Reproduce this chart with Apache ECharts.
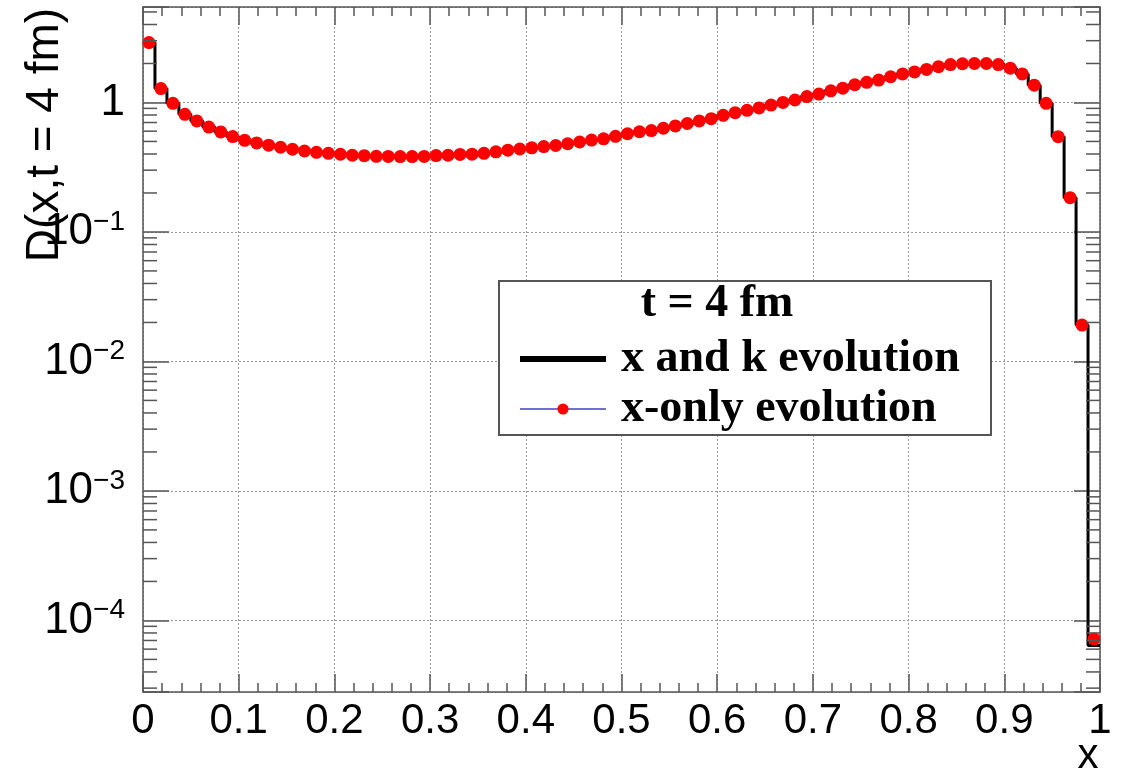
<!DOCTYPE html>
<html>
<head>
<meta charset="utf-8">
<script src="https://cdn.jsdelivr.net/npm/echarts@6/dist/echarts.min.js"></script>
<style>
  html, body { margin: 0; background: #fff; }
  #chart { width: 1122px; height: 772px; }
</style>
</head>
<body>
<div id="chart"></div>
<script>
// 80 bins of width 0.0125 on x in [0, 1]
var binWidth = 0.0125;

// D(x, t = 4 fm), x and k evolution (black histogram)
var xkEvolution = [
  2.90, 1.28, 0.985, 0.81, 0.72, 0.645, 0.592, 0.545, 0.51, 0.487,
  0.468, 0.451, 0.435, 0.422, 0.412, 0.405, 0.398, 0.391, 0.388, 0.384,
  0.383, 0.382, 0.382, 0.383, 0.389, 0.391, 0.397, 0.399, 0.405, 0.416,
  0.428, 0.437, 0.446, 0.456, 0.465, 0.480, 0.495, 0.512, 0.524, 0.548,
  0.573, 0.594, 0.607, 0.632, 0.659, 0.688, 0.72, 0.75, 0.795, 0.834,
  0.87, 0.907, 0.955, 1.0, 1.045, 1.11, 1.16, 1.23, 1.29, 1.37,
  1.43, 1.49, 1.58, 1.66, 1.72, 1.80, 1.89, 1.96, 1.99, 2.00,
  2.00, 1.96, 1.84, 1.66, 1.36, 0.985, 0.544, 0.184, 0.0191, 6.4e-5
];

// D(x, t = 4 fm), x-only evolution (red markers)
var xOnlyEvolution = [
  2.90, 1.28, 0.985, 0.81, 0.72, 0.645, 0.592, 0.545, 0.51, 0.487,
  0.468, 0.451, 0.435, 0.422, 0.412, 0.405, 0.398, 0.391, 0.388, 0.384,
  0.383, 0.382, 0.382, 0.383, 0.389, 0.391, 0.397, 0.399, 0.405, 0.416,
  0.428, 0.437, 0.446, 0.456, 0.465, 0.480, 0.495, 0.512, 0.524, 0.548,
  0.573, 0.594, 0.607, 0.632, 0.659, 0.688, 0.72, 0.75, 0.795, 0.834,
  0.87, 0.907, 0.955, 1.0, 1.045, 1.11, 1.16, 1.23, 1.29, 1.37,
  1.43, 1.49, 1.58, 1.66, 1.72, 1.80, 1.89, 1.96, 1.99, 2.00,
  2.00, 1.96, 1.84, 1.66, 1.36, 0.985, 0.544, 0.184, 0.0191, 7.2e-5
];

var yMin = 2.8e-5;
var yMax = 5.46;

var frameColor = '#555';
var gridLine = { show: true, lineStyle: { color: '#999', width: 1, type: [2, 2] } };

// log-axis minor ticks at 2..9 x 10^k (drawn on both sides)
var minorTicks = [];
for (var k = -5; k <= 0; k++) {
  for (var m = 2; m <= 9; m++) {
    var v = m * Math.pow(10, k);
    if (v > yMin && v < yMax) minorTicks.push([0, v]);
  }
}

function histEdges(values) {
  var pts = values.map(function (v, i) { return [i * binWidth, v]; });
  pts.push([1, values[values.length - 1]]);
  return pts;
}
function binCenters(values) {
  return values.map(function (v, i) { return [(i + 0.5) * binWidth, v]; });
}

function powerLabel(v) {
  var lg = Math.log10(v);
  var e = Math.round(lg);
  if (Math.abs(lg - e) > 1e-6) return '';
  if (e === 0) return '{b|1}';
  if (e === 1) return '{b|10}';
  return '{b|10}{s|' + (e < 0 ? '\u2212' : '') + Math.abs(e) + '}';
}

function renderMinorTick(params, api) {
  var v = api.value(1);
  var l = api.coord([0, v]);
  var r = api.coord([1, v]);
  var len = 14;
  var style = { stroke: frameColor, lineWidth: 1.5 };
  return {
    type: 'group',
    children: [
      { type: 'line', shape: { x1: l[0], y1: l[1], x2: l[0] + len, y2: l[1] }, style: style },
      { type: 'line', shape: { x1: r[0] - len, y1: r[1], x2: r[0], y2: r[1] }, style: style }
    ]
  };
}

function xAxisOpt(pos, labels) {
  return {
    type: 'value', position: pos, min: 0, max: 1, interval: 0.1,
    axisLine: { show: true, onZero: false, lineStyle: { color: frameColor, width: 1.5 } },
    axisTick: { show: true, inside: true, length: 18, lineStyle: { color: frameColor, width: 1.5 } },
    minorTick: { show: true, splitNumber: 5, length: 9, lineStyle: { color: frameColor, width: 1.5 } },
    splitLine: labels ? gridLine : { show: false },
    axisLabel: labels ? {
      show: true, margin: 8, color: '#000', fontFamily: 'Liberation Sans', fontSize: 42
    } : { show: false }
  };
}

function yAxisOpt(pos, labels) {
  return {
    type: 'log', logBase: 10, position: pos, min: yMin, max: yMax,
    axisLine: { show: true, onZero: false, lineStyle: { color: frameColor, width: 1.5 } },
    axisTick: { show: true, inside: true, length: 26, lineStyle: { color: frameColor, width: 1.5 } },
    minorTick: { show: false },
    splitLine: labels ? gridLine : { show: false },
    axisLabel: labels ? {
      show: true, margin: 18, formatter: powerLabel,
      rich: {
        b: { fontFamily: 'Liberation Sans', fontSize: 44, color: '#000', lineHeight: 48 },
        s: { fontFamily: 'Liberation Sans', fontSize: 28, color: '#000', verticalAlign: 'top', lineHeight: 28 }
      }
    } : { show: false }
  };
}

var option = {
  backgroundColor: '#fff',
  animation: false,
  grid: { left: 143, right: 22, top: 7, bottom: 80 },
  xAxis: [xAxisOpt('bottom', true), xAxisOpt('top', false)],
  yAxis: [yAxisOpt('left', true), yAxisOpt('right', false)],
  legend: {
    orient: 'vertical', left: 517, top: 336, z: 60, padding: 0,
    itemWidth: 86, itemHeight: 14, itemGap: 4,
    textStyle: { fontFamily: 'Liberation Serif', fontWeight: 'bold', fontSize: 46, color: '#000', padding: [0, 0, 0, 10] },
    data: [
      { name: 'x and k evolution', lineStyle: { color: '#000', width: 6 }, itemStyle: { opacity: 0 } },
      { name: 'x-only evolution', lineStyle: { color: '#6f6fd8', width: 2, opacity: 1 } }
    ]
  },
  graphic: [
    { type: 'rect', z: 50, shape: { x: 499, y: 281, width: 492, height: 154 },
      style: { fill: '#fff', stroke: frameColor, lineWidth: 2 } },
    { type: 'text', z: 60, x: 717, y: 304,
      style: { text: 't = 4 fm', fontFamily: 'Liberation Serif', fontWeight: 'bold', fontSize: 46,
               fill: '#000', align: 'center', verticalAlign: 'middle' } },
    { type: 'text', x: 45, y: 135, rotation: Math.PI / 2,
      style: { text: 'D(x,t = 4 fm)', fontFamily: 'Liberation Sans', fontSize: 46,
               fill: '#000', align: 'center', verticalAlign: 'middle' } },
    { type: 'text', x: 1088, y: 756,
      style: { text: 'x', fontFamily: 'Liberation Sans', fontSize: 42,
               fill: '#000', align: 'center', verticalAlign: 'middle' } }
  ],
  series: [
    {
      name: 'x and k evolution', type: 'line', step: 'end',
      xAxisIndex: 0, yAxisIndex: 0,
      showSymbol: false, symbol: 'none',
      lineStyle: { color: '#000', width: 3 },
      itemStyle: { color: '#000' },
      data: histEdges(xkEvolution), z: 3
    },
    {
      name: 'x-only evolution', type: 'line',
      xAxisIndex: 0, yAxisIndex: 0,
      symbol: 'circle', symbolSize: 13, showSymbol: true,
      lineStyle: { color: '#6f6fd8', width: 0, opacity: 0 },
      itemStyle: { color: '#ff0000' },
      data: binCenters(xOnlyEvolution), z: 4
    },
    {
      type: 'custom', xAxisIndex: 0, yAxisIndex: 0, silent: true,
      renderItem: renderMinorTick, data: minorTicks, z: 5
    }
  ]
};

var chart = echarts.init(document.getElementById('chart'));
chart.setOption(option);
</script>
</body>
</html>
